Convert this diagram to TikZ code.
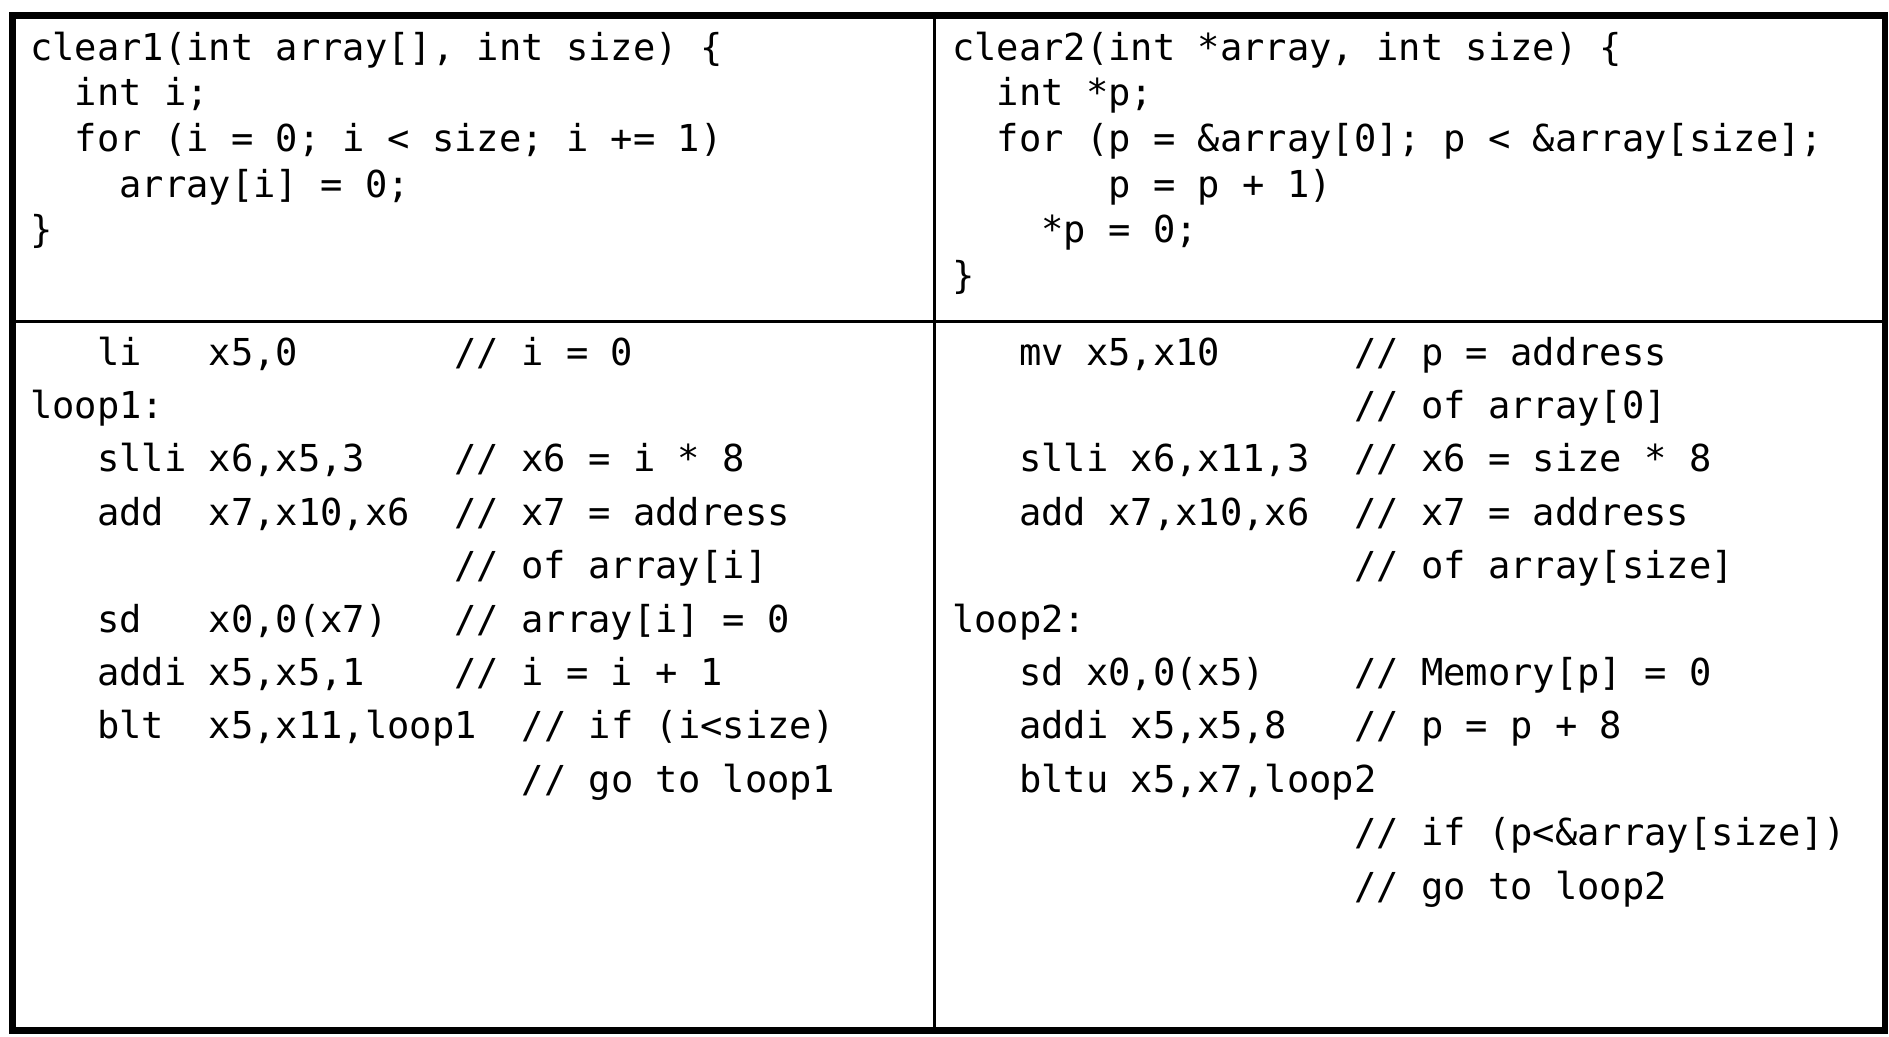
\documentclass[tikz,border=0pt]{standalone}
\usepackage{fontspec}
\newfontfamily\codefont{DejaVu Sans Mono}
\frenchspacing
\def\chw{22.35}
\def\colL{30}
\def\colR{952}
\def\topY{60}
\def\topS{45.7}
\def\botY{365}
\def\botS{53.4}
% #1 name, #2 column origin, #3 column index, #4 row baseline, #5 text
\newcommand\codeat[5]{\node[code] (#1) at ({#2+#3*\chw},{#4}) {#5};}
\begin{document}
\begin{tikzpicture}[x=1pt,y=-1pt,
  code/.style={anchor=base west, inner sep=0pt, outer sep=0pt,
    font=\codefont\fontsize{37.1}{44}\selectfont},
  frame/.style={line width=6.5pt, draw=black},
  divider/.style={line width=3pt, draw=black}]
\useasboundingbox (0,0) rectangle (1889,1036);
\fill[white] (0,0) rectangle (1889,1036);

% ---- top left: C source clear1
\codeat{tlA}{\colL}{0}{\topY+0*\topS}{clear1(int array[], int size) \{}
\codeat{tlB}{\colL}{2}{\topY+1*\topS}{int i;}
\codeat{tlC}{\colL}{2}{\topY+2*\topS}{for (i = 0; i < size; i += 1)}
\codeat{tlD}{\colL}{4}{\topY+3*\topS}{array[i] = 0;}
\codeat{tlE}{\colL}{0}{\topY+4*\topS}{\}}

% ---- top right: C source clear2
\codeat{trA}{\colR}{0}{\topY+0*\topS}{clear2(int *array, int size) \{}
\codeat{trB}{\colR}{2}{\topY+1*\topS}{int *p;}
\codeat{trC}{\colR}{2}{\topY+2*\topS}{for (p = \&array[0]; p < \&array[size];}
\codeat{trD}{\colR}{7}{\topY+3*\topS}{p = p + 1)}
\codeat{trE}{\colR}{4}{\topY+4*\topS}{*p = 0;}
\codeat{trF}{\colR}{0}{\topY+5*\topS}{\}}

% ---- bottom left: assembly for clear1
\codeat{blA1}{\colL}{3}{\botY+0*\botS}{li}
\codeat{blA2}{\colL}{8}{\botY+0*\botS}{x5,0}
\codeat{blA3}{\colL}{19}{\botY+0*\botS}{// i = 0}
\codeat{blB1}{\colL}{0}{\botY+1*\botS}{loop1:}
\codeat{blC1}{\colL}{3}{\botY+2*\botS}{slli}
\codeat{blC2}{\colL}{8}{\botY+2*\botS}{x6,x5,3}
\codeat{blC3}{\colL}{19}{\botY+2*\botS}{// x6 = i * 8}
\codeat{blD1}{\colL}{3}{\botY+3*\botS}{add}
\codeat{blD2}{\colL}{8}{\botY+3*\botS}{x7,x10,x6}
\codeat{blD3}{\colL}{19}{\botY+3*\botS}{// x7 = address}
\codeat{blE3}{\colL}{19}{\botY+4*\botS}{// of array[i]}
\codeat{blF1}{\colL}{3}{\botY+5*\botS}{sd}
\codeat{blF2}{\colL}{8}{\botY+5*\botS}{x0,0(x7)}
\codeat{blF3}{\colL}{19}{\botY+5*\botS}{// array[i] = 0}
\codeat{blG1}{\colL}{3}{\botY+6*\botS}{addi}
\codeat{blG2}{\colL}{8}{\botY+6*\botS}{x5,x5,1}
\codeat{blG3}{\colL}{19}{\botY+6*\botS}{// i = i + 1}
\codeat{blH1}{\colL}{3}{\botY+7*\botS}{blt}
\codeat{blH2}{\colL}{8}{\botY+7*\botS}{x5,x11,loop1}
\codeat{blH3}{\colL}{22}{\botY+7*\botS}{// if (i<size)}
\codeat{blI3}{\colL}{22}{\botY+8*\botS}{// go to loop1}

% ---- bottom right: assembly for clear2
\codeat{brA1}{\colR}{3}{\botY+0*\botS}{mv x5,x10}
\codeat{brA3}{\colR}{18}{\botY+0*\botS}{// p = address}
\codeat{brB3}{\colR}{18}{\botY+1*\botS}{// of array[0]}
\codeat{brC1}{\colR}{3}{\botY+2*\botS}{slli x6,x11,3}
\codeat{brC3}{\colR}{18}{\botY+2*\botS}{// x6 = size * 8}
\codeat{brD1}{\colR}{3}{\botY+3*\botS}{add x7,x10,x6}
\codeat{brD3}{\colR}{18}{\botY+3*\botS}{// x7 = address}
\codeat{brE3}{\colR}{18}{\botY+4*\botS}{// of array[size]}
\codeat{brF1}{\colR}{0}{\botY+5*\botS}{loop2:}
\codeat{brG1}{\colR}{3}{\botY+6*\botS}{sd x0,0(x5)}
\codeat{brG3}{\colR}{18}{\botY+6*\botS}{// Memory[p] = 0}
\codeat{brH1}{\colR}{3}{\botY+7*\botS}{addi x5,x5,8}
\codeat{brH3}{\colR}{18}{\botY+7*\botS}{// p = p + 8}
\codeat{brI1}{\colR}{3}{\botY+8*\botS}{bltu x5,x7,loop2}
\codeat{brJ3}{\colR}{18}{\botY+9*\botS}{// if (p<\&array[size])}
\codeat{brK3}{\colR}{18}{\botY+10*\botS}{// go to loop2}

% ---- table rules
\draw[divider] (934.5,15.5) -- (934.5,1030.5);
\draw[divider] (12.5,321.5) -- (1885,321.5);
\draw[frame] (12.5,15.5) rectangle (1885,1030.5);
\end{tikzpicture}
\end{document}
